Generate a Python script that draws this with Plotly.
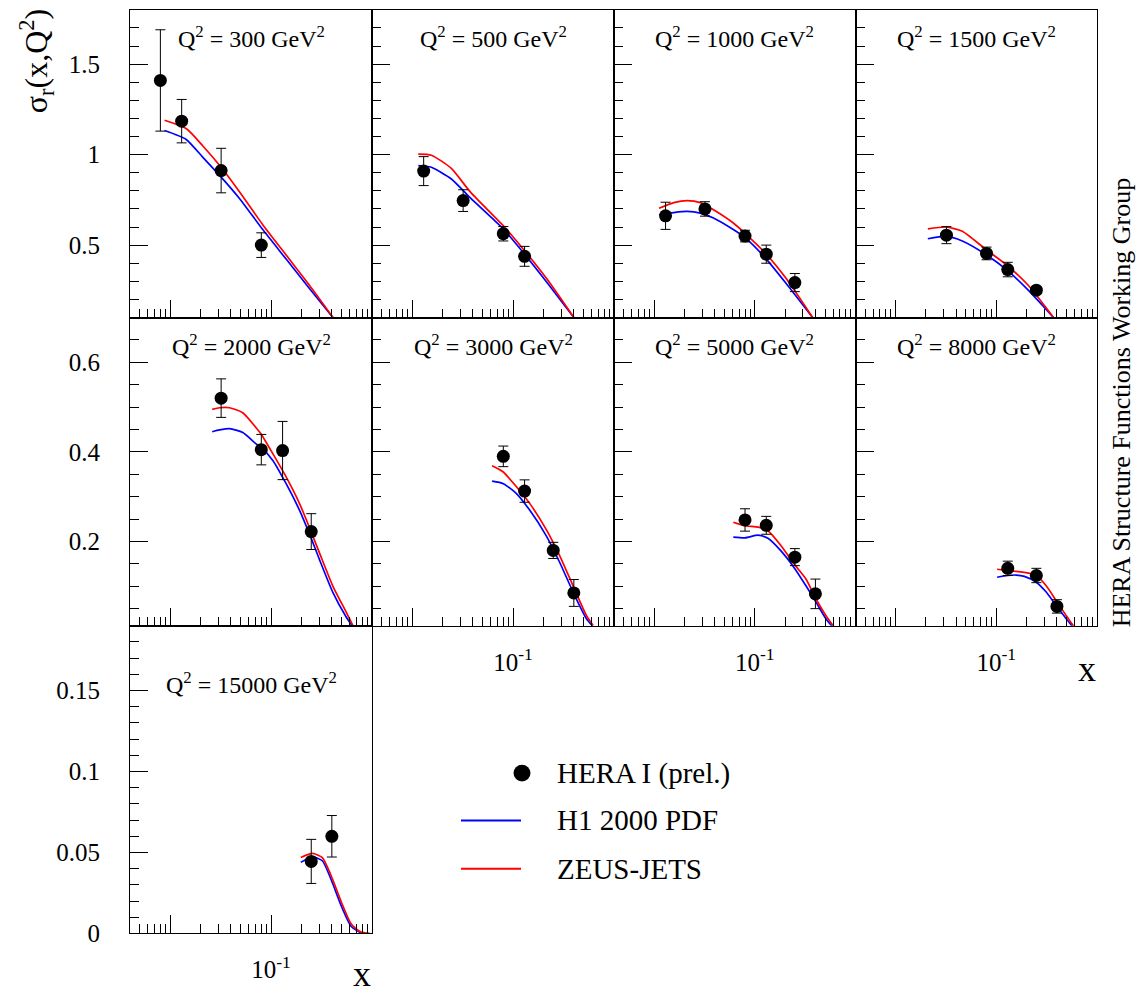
import math
import plotly.graph_objects as go

# ---------------- data ----------------
q2_values = [300, 500, 1000, 1500, 2000, 3000, 5000, 8000, 15000]

# HERA I (prel.) points: x, sigma_r, error
x_300 = [0.008, 0.013, 0.032, 0.08]
s_300 = [1.41, 1.185, 0.912, 0.50]
e_300 = [0.28, 0.12, 0.123, 0.068]

x_500 = [0.013, 0.032, 0.08, 0.13]
s_500 = [0.909, 0.746, 0.563, 0.438]
e_500 = [0.08, 0.06, 0.04, 0.055]

x_1000 = [0.013, 0.032, 0.08, 0.13, 0.25]
s_1000 = [0.662, 0.70, 0.55, 0.45, 0.293]
e_1000 = [0.075, 0.04, 0.032, 0.05, 0.05]

x_1500 = [0.032, 0.08, 0.13, 0.25]
s_1500 = [0.555, 0.454, 0.365, 0.251]
e_1500 = [0.047, 0.035, 0.04, 0.02]

x_2000 = [0.032, 0.08, 0.13, 0.25]
s_2000 = [0.52, 0.405, 0.403, 0.222]
e_2000 = [0.043, 0.034, 0.065, 0.04]

x_3000 = [0.08, 0.13, 0.25, 0.40]
s_3000 = [0.39, 0.3125, 0.18, 0.085]
e_3000 = [0.023, 0.025, 0.018, 0.03]

x_5000 = [0.08, 0.13, 0.25, 0.40]
s_5000 = [0.248, 0.236, 0.165, 0.083]
e_5000 = [0.025, 0.02, 0.019, 0.033]

x_8000 = [0.13, 0.25, 0.40]
s_8000 = [0.14, 0.124, 0.055]
e_8000 = [0.016, 0.016, 0.015]

x_15000 = [0.25, 0.40]
s_15000 = [0.0445, 0.06]
e_15000 = [0.0136, 0.0128]

# Theory curves: common x, H1 2000 PDF (blue), ZEUS-JETS (red)
cx_300 = [0.0088, 0.0144, 0.0211, 0.032, 0.0486, 0.0827, 0.141, 0.240, 0.41]
h1_300 = [1.133, 1.084, 0.985, 0.876, 0.758, 0.586, 0.423, 0.26, 0.10]
zeus_300 = [1.19, 1.144, 1.048, 0.930, 0.795, 0.613, 0.445, 0.278, 0.10]

cx_500 = [0.0115, 0.0155, 0.0243, 0.0382, 0.081, 0.13, 0.215, 0.40]
h1_500 = [0.94, 0.93, 0.867, 0.758, 0.586, 0.45, 0.296, 0.10]
zeus_500 = [1.003, 0.997, 0.925, 0.79, 0.604, 0.469, 0.315, 0.10]

cx_1000 = [0.0112, 0.0157, 0.0213, 0.0288, 0.0389, 0.0612, 0.08, 0.13, 0.205, 0.375]
h1_1000 = [0.668, 0.680, 0.686, 0.677, 0.650, 0.586, 0.541, 0.423, 0.288, 0.10]
zeus_1000 = [0.704, 0.735, 0.746, 0.735, 0.695, 0.622, 0.565, 0.45, 0.315, 0.10]

cx_1500 = [0.0209, 0.0316, 0.046, 0.078, 0.129, 0.2075, 0.37]
h1_1500 = [0.535, 0.55, 0.523, 0.45, 0.36, 0.251, 0.10]
zeus_1500 = [0.59, 0.60, 0.577, 0.478, 0.387, 0.278, 0.10]

cx_2000 = [0.0261, 0.0308, 0.0387, 0.0524, 0.071, 0.0796, 0.104, 0.141,
           0.191, 0.245, 0.301, 0.408, 0.553, 0.644]
h1_2000 = [0.445, 0.449, 0.452, 0.443, 0.418, 0.41, 0.381, 0.329,
           0.27, 0.212, 0.16, 0.087, 0.032, 0.01]
zeus_2000 = [0.495, 0.4985, 0.4985, 0.4875, 0.454, 0.44, 0.396, 0.344,
             0.285, 0.226, 0.175, 0.101, 0.043, 0.013]

cx_3000 = [0.062, 0.08, 0.108, 0.146, 0.214, 0.29, 0.393, 0.532, 0.62]
h1_3000 = [0.3345, 0.329, 0.307, 0.27, 0.212, 0.153, 0.087, 0.028, 0.01]
zeus_3000 = [0.369, 0.355, 0.322, 0.285, 0.226, 0.168, 0.101, 0.035, 0.013]

cx_5000 = [0.0612, 0.08, 0.108, 0.135, 0.18, 0.245, 0.322, 0.404, 0.507, 0.60]
h1_5000 = [0.2095, 0.208, 0.214, 0.207, 0.18, 0.142, 0.101, 0.065, 0.028, 0.008]
zeus_5000 = [0.243, 0.235, 0.232, 0.224, 0.192, 0.15, 0.116, 0.072, 0.035, 0.012]

cx_8000 = [0.102, 0.13, 0.158, 0.19, 0.249, 0.313, 0.393, 0.493, 0.59]
h1_8000 = [0.12, 0.124, 0.125, 0.122, 0.109, 0.087, 0.057, 0.028, 0.006]
zeus_8000 = [0.138, 0.135, 0.133, 0.131, 0.124, 0.101, 0.068, 0.035, 0.01]

cx_15000 = [0.197, 0.257, 0.322, 0.395, 0.5, 0.62, 0.77, 0.95]
h1_15000 = [0.0439, 0.0473, 0.0449, 0.033, 0.0165, 0.0045, 0.0005, 0.0]
zeus_15000 = [0.0469, 0.0494, 0.0469, 0.0355, 0.019, 0.006, 0.001, 0.0]

# axis ticks
x_major = [0.01, 0.1]
x_major_text = ["", "10<sup>-1</sup>"]
x_minor = [k * 10.0 ** e for e in (-3, -2, -1) for k in range(2, 10) if 0.004 <= k * 10.0 ** e < 1]

row_y_range = [[0.1, 1.8], [0.012, 0.7], [0.0, 0.19]]
row_y_major = [[0.5, 1.0, 1.5], [0.2, 0.4, 0.6], [0.0, 0.05, 0.1, 0.15]]
row_y_text = [["0.5", "1", "1.5"], ["0.2", "0.4", "0.6"], ["0", "0.05", "0.1", "0.15"]]
row_y_minor = [
    [round(0.1 * k, 3) for k in range(1, 19)],
    [round(0.05 * k, 3) for k in range(1, 15)],
    [round(0.01 * k, 3) for k in range(0, 20)],
]

legend_labels = ["HERA I (prel.)", "H1 2000 PDF", "ZEUS-JETS"]

panels = [
    (x_300, s_300, e_300, cx_300, h1_300, zeus_300),
    (x_500, s_500, e_500, cx_500, h1_500, zeus_500),
    (x_1000, s_1000, e_1000, cx_1000, h1_1000, zeus_1000),
    (x_1500, s_1500, e_1500, cx_1500, h1_1500, zeus_1500),
    (x_2000, s_2000, e_2000, cx_2000, h1_2000, zeus_2000),
    (x_3000, s_3000, e_3000, cx_3000, h1_3000, zeus_3000),
    (x_5000, s_5000, e_5000, cx_5000, h1_5000, zeus_5000),
    (x_8000, s_8000, e_8000, cx_8000, h1_8000, zeus_8000),
    (x_15000, s_15000, e_15000, cx_15000, h1_15000, zeus_15000),
]

# ---------------- layout geometry (pixels) ----------------
W, H = 1137, 1004
COL_L = [130, 372, 614, 855.5]
COL_R = [372, 614, 855.5, 1097]
ROW_T = [10, 322, 634.5]
ROW_B = [322, 634.5, 946.7]
SERIF = "Liberation Serif, Times New Roman, serif"
BLUE = "#0000ff"
RED = "#ff0000"


def px(xp):
    return xp / W


def py(yp):
    return 1 - yp / H


fig = go.Figure()
layout = dict(
    width=W, height=H, autosize=False,
    margin=dict(l=0, r=0, t=0, b=0),
    paper_bgcolor="white", plot_bgcolor="white",
    showlegend=False,
    font=dict(family=SERIF, color="black"),
)
annotations = []

for i, (xd, sd, ed, cx, h1, zeus) in enumerate(panels):
    r, c = divmod(i, 4)
    n = i + 1
    sx = "" if n == 1 else str(n)
    xref, yref = "x" + sx, "y" + sx

    fig.add_trace(go.Scatter(x=cx, y=h1, mode="lines",
                             line=dict(color=BLUE, width=1.7, shape="spline", smoothing=0.6),
                             xaxis=xref, yaxis=yref, name=legend_labels[1]))
    fig.add_trace(go.Scatter(x=cx, y=zeus, mode="lines",
                             line=dict(color=RED, width=1.7, shape="spline", smoothing=0.6),
                             xaxis=xref, yaxis=yref, name=legend_labels[2]))
    fig.add_trace(go.Scatter(x=xd, y=sd, mode="markers",
                             marker=dict(color="black", size=13, symbol="circle"),
                             error_y=dict(type="data", array=ed, color="black", thickness=1, width=5),
                             xaxis=xref, yaxis=yref, name=legend_labels[0], cliponaxis=False))

    show_x = i in (5, 6, 7, 8)
    show_y = c == 0
    layout["xaxis" + sx] = dict(
        type="log", range=[math.log10(0.004), 0.0],
        domain=[px(COL_L[c]), px(COL_R[c])], anchor=yref,
        showline=True, mirror=True, linecolor="black", linewidth=1,
        showgrid=False, zeroline=False,
        ticks="inside", ticklen=18, tickwidth=1, tickcolor="black",
        tickmode="array", tickvals=x_major, ticktext=x_major_text,
        showticklabels=show_x, ticklabelstandoff=14,
        tickfont=dict(family=SERIF, size=25, color="black"),
        minor=dict(tickmode="array", tickvals=x_minor, ticks="inside", ticklen=9,
                   tickwidth=1, tickcolor="black", showgrid=False),
        fixedrange=True,
    )
    layout["yaxis" + sx] = dict(
        range=row_y_range[r],
        domain=[py(ROW_B[r]), py(ROW_T[r])], anchor=xref,
        showline=True, mirror=True, linecolor="black", linewidth=1,
        showgrid=False, zeroline=False,
        ticks="inside", ticklen=18, tickwidth=1, tickcolor="black",
        tickmode="array", tickvals=row_y_major[r], ticktext=row_y_text[r],
        showticklabels=show_y, ticklabelstandoff=24,
        tickfont=dict(family=SERIF, size=25, color="black"),
        minor=dict(tickmode="array", tickvals=row_y_minor[r], ticks="inside", ticklen=9,
                   tickwidth=1, tickcolor="black", showgrid=False),
        fixedrange=True,
    )

    # Q^2 label
    label_y = ROW_T[r] + (28 if r < 2 else 58)
    annotations.append(dict(
        text=f"Q<sup>2</sup> = {q2_values[i]} GeV<sup>2</sup>",
        x=px((COL_L[c] + COL_R[c]) / 2), y=py(label_y), xref="paper", yref="paper",
        xanchor="center", yanchor="middle", showarrow=False,
        font=dict(family=SERIF, size=24, color="black"),
    ))

# axis titles and side text
annotations.append(dict(text="σ<sub>r</sub>(x,Q<sup>2</sup>)", textangle=-90,
                        x=px(36), y=py(62), xref="paper", yref="paper",
                        xanchor="center", yanchor="middle", showarrow=False,
                        font=dict(family=SERIF, size=32, color="black")))
annotations.append(dict(text="x", x=px(1087), y=py(678), xref="paper", yref="paper",
                        xanchor="center", yanchor="middle", showarrow=False,
                        font=dict(family=SERIF, size=36, color="black")))
annotations.append(dict(text="x", x=px(362), y=py(988), xref="paper", yref="paper",
                        xanchor="center", yanchor="middle", showarrow=False,
                        font=dict(family=SERIF, size=36, color="black")))
annotations.append(dict(text="HERA Structure Functions Working Group", textangle=-90,
                        x=px(1121), y=py(408), xref="paper", yref="paper",
                        xanchor="center", yanchor="middle", showarrow=False,
                        font=dict(family=SERIF, size=26, color="black")))

# legend (drawn manually)
leg_rows = [784, 832, 881]
shapes = [
    dict(type="circle", xref="paper", yref="paper",
         x0=px(513.5), x1=px(530.5), y0=py(leg_rows[0] + 8.5), y1=py(leg_rows[0] - 8.5),
         fillcolor="black", line=dict(color="black", width=0)),
    dict(type="line", xref="paper", yref="paper", x0=px(461), x1=px(521),
         y0=py(leg_rows[1]), y1=py(leg_rows[1]), line=dict(color=BLUE, width=2)),
    dict(type="line", xref="paper", yref="paper", x0=px(461), x1=px(521),
         y0=py(leg_rows[2]), y1=py(leg_rows[2]), line=dict(color=RED, width=2)),
]
for lab, yy in zip(legend_labels, leg_rows):
    annotations.append(dict(text=lab, x=px(555), y=py(yy), xref="paper", yref="paper",
                            xanchor="left", yanchor="middle", showarrow=False,
                            font=dict(family=SERIF, size=29, color="black")))

layout["annotations"] = annotations
layout["shapes"] = shapes
fig.update_layout(**layout)

fig.write_html("out.html", config={"displayModeBar": False},
               post_script="document.body.style.margin='0';")
